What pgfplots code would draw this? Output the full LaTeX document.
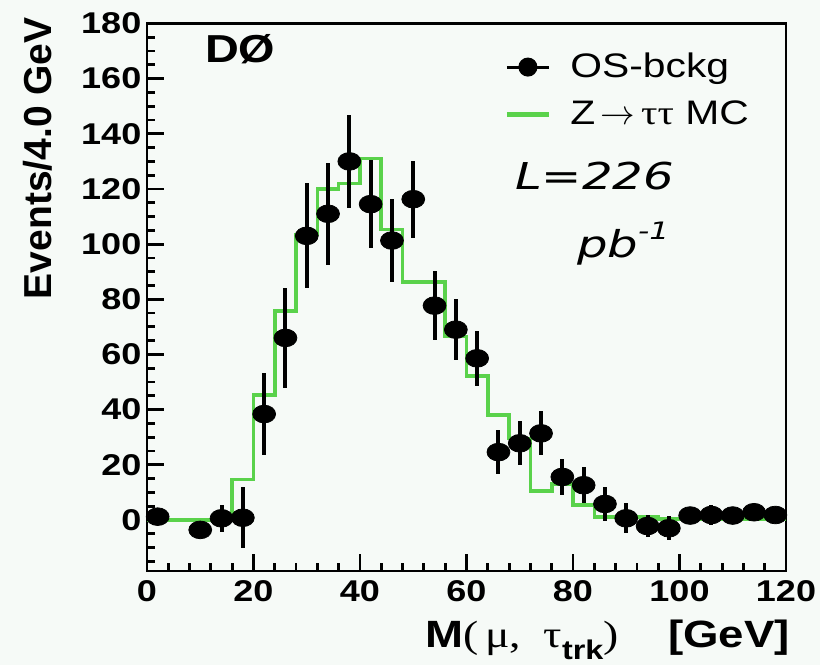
\documentclass[border=0pt]{standalone}
\usepackage{fontspec}
\setmainfont{Liberation Sans}[FakeStretch=1.2]
\newfontfamily\ylabfont{Liberation Sans}
\newfontfamily\symbfont{Liberation Serif}[FakeStretch=1.2]
\newfontfamily\handfont{DejaVu Sans}[FakeStretch=1.3]
\usepackage{pgfplots}
\usepackage{pgfplotstable}
\pgfplotsset{compat=1.18}
\usetikzlibrary{backgrounds}

\definecolor{bgcol}{RGB}{246,250,247}
\definecolor{mcgreen}{RGB}{90,210,75}

% OS background, points with errors (bin centres, 4 GeV bins)
\pgfplotstableread{
x    y      ex  ey
2    1.2    2   2
10   -3.6   2   3
14   0.6    2   5
18   0.8    2   11
22   38.4   2   15
26   66.0   2   18
30   103.0  2   19
34   111.0  2   18.5
38   130.0  2   17
42   114.5  2   16
46   101.3  2   15
50   116.3  2   14
54   77.7   2   12.5
58   69.0   2   11
62   58.6   2   10
66   24.6   2   8
70   27.8   2   8
74   31.4   2   8
78   15.6   2   6.5
82   12.6   2   6.5
86   5.8    2   6
90   0.6    2   5.5
94   -2.2   2   4
98   -3.0   2   4.3
102  1.6    2   2
106  1.8    2   3.8
110  1.6    2   2
114  2.8    2   2
118  1.8    2   2
}\osdata

% Z -> tautau MC, left bin edges
\pgfplotstableread{
x    y
0    0
16   14.6
20   45.2
24   75.8
28   103.5
32   120.0
36   122.0
40   131.0
44   105.3
48   86.3
56   66.5
60   52.2
64   38.0
68   29.6
72   10.5
76   13.0
80   5.4
84   1.0
96   0.3
120  0.3
}\mcdata

\begin{document}
\begin{tikzpicture}
\begin{axis}[
    scale only axis,
    width=319.5pt, height=273.75pt,
    xmin=0, xmax=120,
    ymin=-18.5, ymax=180,
    clip=false,
    axis background/.style={fill=bgcol},
    axis line style={line width=1.4pt},
    tick pos=left, tick align=inside,
    xtick={0,20,...,120},
    ytick={0,20,...,180},
    minor xtick={4,8,...,116},
    minor ytick={-15,-10,...,175},
    major tick length=8.5pt, minor tick length=4pt,
    tick style={black, line width=1.4pt},
    /pgf/number format/assume math mode=true,
    ticklabel style={font=\fontsize{15}{15}\selectfont\bfseries},
    xticklabel style={anchor=north, inner sep=0pt, yshift=-4.5pt},
    yticklabel style={anchor=east, inner sep=0pt, xshift=-2.65pt},
    legend style={at={(axis description cs:0.5587,0.95)}, anchor=north west,
        draw=none, fill=none, inner sep=0pt, row sep=8pt, column sep=8.5pt,
        nodes={inner sep=1pt},
        font=\fontsize{17}{17}\selectfont},
    legend cell align=left,
    legend image code/.code={
        \draw[mark repeat=2, mark phase=2, #1]
            plot coordinates {(0pt,0pt) (10.5pt,0pt) (21pt,0pt)};},
]

% MC histogram
\addplot[const plot mark left, mcgreen, line width=1.8pt, forget plot]
    table[x=x, y=y] {\mcdata};

% data points
\addplot[only marks, black, mark=*, mark size=5.2pt,
    mark options={xscale=1.1, yscale=0.85}, forget plot,
    error bars/.cd, x dir=both, x explicit, y dir=both, y explicit,
    error mark=none, error bar style={line width=2pt, black}]
    table[x=x, y=y, x error=ex, y error=ey] {\osdata};

\addlegendimage{black, line width=1.5pt, mark=*, mark size=4pt}
\addlegendentry{OS-bckg}
\addlegendimage{mcgreen, line width=2.5pt}
\addlegendentry{Z\,$\rightarrow$\,{\symbfont ττ} MC}

% labels
\node[anchor=base east, font=\fontsize{19}{19}\selectfont\bfseries]
    at (axis description cs:1.0168,-0.1406)
    {M{\mdseries\symbfont(\,μ,\hspace{0.6em}τ}\raisebox{-0.3em}{\fontsize{13.5}{13.5}\selectfont trk}{\mdseries\symbfont)}\hspace{1.3em}[GeV]};
\node[rotate=90, anchor=center, font=\fontsize{19.5}{19.5}\selectfont\ylabfont\bfseries]
    at (axis description cs:-0.1706,0.754) {Events/4.0 GeV};
\node[anchor=base west, font=\fontsize{19.5}{19.5}\selectfont\bfseries]
    at (axis description cs:0.0798,0.928) {DØ};

% handwritten luminosity
\node[anchor=base west, font=\fontsize{18.5}{18.5}\selectfont\handfont\itshape]
    at (axis description cs:0.5650,0.696) {L=226};
\node[anchor=base west, font=\fontsize{18.5}{18.5}\selectfont\handfont\itshape]
    at (axis description cs:0.662,0.572)
    {pb\raisebox{0.5em}{\fontsize{12}{12}\selectfont -1}};
\end{axis}

\begin{scope}[on background layer]
\fill[bgcol] ([shift={(-73.5pt,-47pt)}]current axis.south west)
    rectangle ([shift={(336.5pt,285.5pt)}]current axis.south west);
\end{scope}
\end{tikzpicture}
\end{document}
